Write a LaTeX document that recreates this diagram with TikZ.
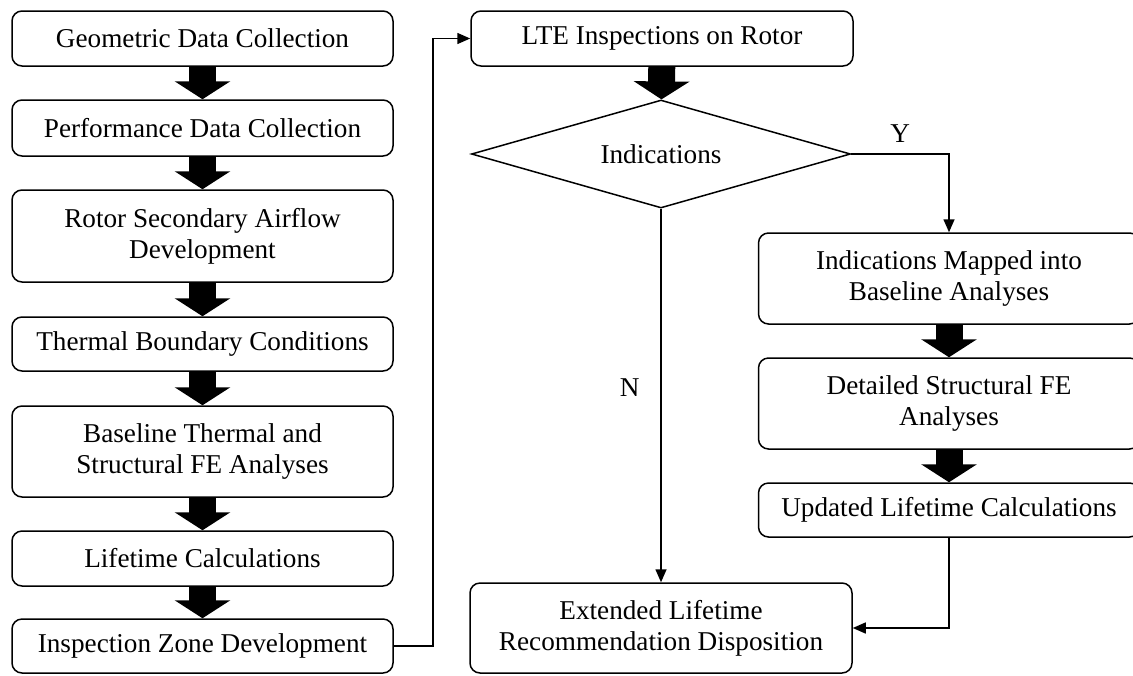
\documentclass[tikz,border=0pt]{standalone}
\usepackage{fontspec}
\setmainfont{Liberation Serif}
\usepackage{tikz}
\usetikzlibrary{shapes,arrows,positioning,shapes.geometric,calc,arrows.meta}

\begin{document}
\begin{tikzpicture}[x=0.5pt, y=-0.5pt,
        every node/.style={font=\fontsize{13.6}{15.5}\selectfont},
        stepbox/.style={
                draw,
                rounded corners=5pt,
                line width=0.75pt,
                align=center,
                inner sep=0pt,
                minimum width=190.5pt,
        },
        decision/.style={
                draw,
                diamond,
                aspect=3.5,
                line width=0.75pt,
                inner sep=0pt,
                minimum width=189.5pt,
                minimum height=54pt,
        },
        bigarrow/.style={
                line width=13.5pt,
                -{Triangle[width=27.5pt, length=9pt]},
        },
        link/.style={
                line width=0.75pt,
                -{Triangle[width=5.5pt, length=6.5pt]},
        }]
            \useasboundingbox (0, 0) rectangle (1133, 675);
            % left column
            \node[stepbox, minimum height=27.5pt] (geo) at (202.5, 38.5) {Geometric Data Collection};
            \node[stepbox, minimum height=28pt] (perf) at (202.5, 128) {Performance Data Collection};
            \node[stepbox, minimum height=46pt] (air) at (202.5, 236) {Rotor Secondary Airflow\\Development};
            \node[stepbox, minimum height=27pt] (bc) at (202.5, 344) {Thermal Boundary Conditions};
            \node[stepbox, minimum height=45.5pt] (fea) at (202.5, 451.5) {Baseline Thermal and\\Structural FE Analyses};
            \node[stepbox, minimum height=27.5pt] (life) at (202.5, 558.5) {Lifetime Calculations};
            \node[stepbox, minimum height=27pt] (zone) at (202.5, 646) {Inspection Zone Development};
            % right part
            \node[stepbox, minimum width=191pt, minimum height=27.5pt] (lte) at (662, 38.5) {LTE Inspections on Rotor};
            \node[decision] (ind) at (661, 154) {Indications};
            \node[stepbox, minimum height=45.5pt] (map) at (949, 278.5) {Indications Mapped into\\Baseline Analyses};
            \node[stepbox, minimum height=45.5pt] (det) at (949, 403.5) {Detailed Structural FE\\Analyses};
            \node[stepbox, minimum height=27pt] (upd) at (949, 510) {Updated Lifetime Calculations};
            \node[stepbox, minimum width=191pt, minimum height=45pt] (ext) at (661, 628) {Extended Lifetime\\Recommendation Disposition};
            \coordinate (turn) at (433, 0);
            % block arrows
            \draw[bigarrow] (geo) -- (perf);
            \draw[bigarrow] (perf) -- (air);
            \draw[bigarrow] (air) -- (bc);
            \draw[bigarrow] (bc) -- (fea);
            \draw[bigarrow] (fea) -- (life);
            \draw[bigarrow] (life) -- (zone);
            \draw[bigarrow] (lte) -- (ind);
            \draw[bigarrow] (map) -- (det);
            \draw[bigarrow] (det) -- (upd);
            % thin connectors
            \draw[link] (zone.east) -| (turn |- lte.south) |- (lte.west);
            \draw[link] (ind.east) -| node[pos=0.25, above=2pt] {Y} (map.north);
            \draw[link] (ind.south) -- node[pos=0.48, left=7pt] {N} (ext.north);
            \draw[link] (upd.south) |- (ext.east);
        \end{tikzpicture}
\end{document}
